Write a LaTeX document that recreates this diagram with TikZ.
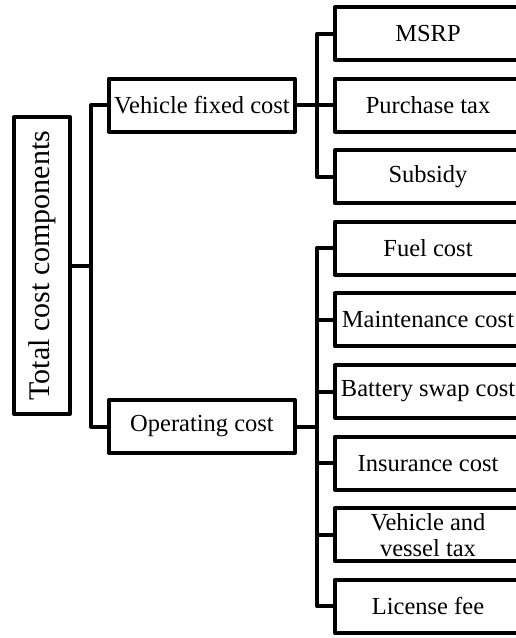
\documentclass[tikz,border=0pt]{standalone}
\usepackage{fontspec}
\setmainfont{Liberation Serif}
\begin{document}
\begin{tikzpicture}[x=1pt, y=-1pt, line width=4pt, line join=round,
    costbox/.style={draw, minimum width=186pt, minimum height=53pt, inner sep=0pt,
        align=center, font=\fontsize{24.5}{26}\selectfont},
    rootbox/.style={draw, rotate=90, minimum width=297pt, minimum height=56pt,
        inner sep=0pt, font=\fontsize{30}{32}\selectfont},
    link/.style={line width=4pt}]
    \useasboundingbox (0,0) rectangle (515,638);

    % root
    \node[rootbox] (total) at (42,265.5) {Total cost components};

    % first level
    \node[costbox] (fixed) at (202,105.1) {Vehicle fixed cost};
    \node[costbox] (oper) at (202,426.5) {Operating cost};

    % second level
    \node[costbox] (msrp) at (428,33.5) {MSRP};
    \node[costbox] (ptax) at (428,105.1) {Purchase tax};
    \node[costbox] (subs) at (428,176.7) {Subsidy};
    \node[costbox] (fuel) at (428,248.3) {Fuel cost};
    \node[costbox] (maint) at (428,319.9) {Maintenance cost};
    \node[costbox] (swap) at (428,391.5) {Battery swap cost};
    \node[costbox] (insur) at (428,463.1) {Insurance cost};
    \node[costbox] (vvtax) at (428,534.7) {Vehicle and\\vessel tax};
    \node[costbox] (lic) at (428,606.3) {License fee};

    % connectors
    \foreach \child in {fixed,oper}
        \draw[link] (total.south) -- ++(19,0) |- (\child.west);
    \foreach \child in {msrp,ptax,subs}
        \draw[link] (fixed.east) -- ++(20,0) |- (\child.west);
    \foreach \child in {fuel,maint,swap,insur,vvtax,lic}
        \draw[link] (oper.east) -- ++(20,0) |- (\child.west);
\end{tikzpicture}
\end{document}
